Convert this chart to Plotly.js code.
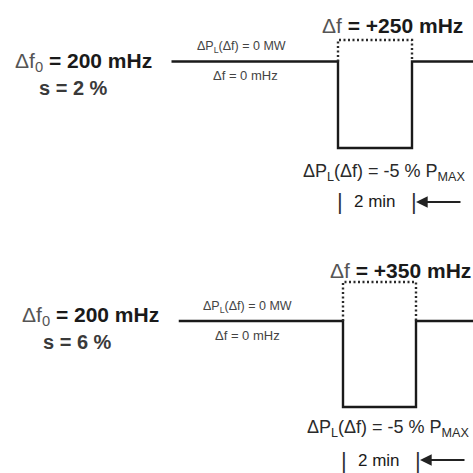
<!DOCTYPE html>
<html>
<head>
<meta charset="utf-8">
<script src="https://cdn.plot.ly/plotly-3.0.1.min.js"></script>
<style>html,body{margin:0;padding:0;background:#fff;}#plot{width:473px;height:473px;}</style>
</head>
<body>
<div id="plot"></div>
<script>
// ---- data ----
const stepTime = [-4.5, 0, 0, 2, 2, 5];          // minutes
const powerTop = [0, 0, -5, -5, 0, 0];          // % Pmax
const powerBottom = [0, 0, -5, -5, 0, 0];       // % Pmax
const freqTime = [0, 0, 2, 2];                  // minutes
const freqTop = [0, 250, 250, 0];               // mHz
const freqBottom = [0, 350, 350, 0];            // mHz
const labelsTop = {f0: 200, s: 2, df: 250, dp: -5, dur: 2};
const labelsBottom = {f0: 200, s: 6, df: 350, dp: -5, dur: 2};

// ---- layout helpers (pixel anchors) ----
const W = 473, H = 473;
function xRange(t0, p0, t1, p1) { const s = (t1 - t0) / (p1 - p0); return [t0 - s * p0, t0 + s * (W - p0)]; }
function yRange(v0, p0, v1, p1) { const s = (v1 - v0) / (p0 - p1); return [v0 - s * (H - p0), v0 + s * p0]; }
const px = x => x / W, py = y => 1 - y / H;

const lineStyle = {color: '#1a1a1a', width: 2.4};
const dotStyle = {color: '#2a2a2a', width: 2.4, dash: '2px,2.5px'};

const traces = [
  {x: stepTime, y: powerTop, xaxis: 'x', yaxis: 'y', mode: 'lines', line: lineStyle, hoverinfo: 'skip'},
  {x: freqTime, y: freqTop, xaxis: 'x', yaxis: 'y2', mode: 'lines', line: dotStyle, hoverinfo: 'skip'},
  {x: stepTime, y: powerBottom, xaxis: 'x2', yaxis: 'y3', mode: 'lines', line: lineStyle, hoverinfo: 'skip'},
  {x: freqTime, y: freqBottom, xaxis: 'x2', yaxis: 'y4', mode: 'lines', line: dotStyle, hoverinfo: 'skip'}
];

const hidden = {visible: false, fixedrange: true};
const F = 'Liberation Sans, Arial, sans-serif';
const dark = '#1a1a1a';

function ann(text, x, y, size, color) {
  return {text: text, x: px(x), y: py(y), xref: 'paper', yref: 'paper',
    xanchor: 'left', yanchor: 'middle', showarrow: false,
    font: {family: F, size: size, color: color || dark}};
}

function panel(L, o) {
  const a = [];
  a.push(ann('<span style="color:#555">Δf<sub>0</sub></span> <b>= ' + L.f0 + ' mHz</b>', o.f0x, o.f0y, 21));
  a.push(ann('<b>s = ' + L.s + ' %</b>', o.sx, o.sy, 20, '#3a3a3a'));
  a.push(ann('ΔP<sub>L</sub>(Δf) = 0 MW', o.zx, o.zy, 12.5, '#444'));
  a.push(ann('Δf = 0 mHz', o.zfx, o.zfy, 13, '#444'));
  a.push(ann('<span style="color:#555">Δf</span> <b>= +' + L.df + ' mHz</b>', o.dfx, o.dfy, 21));
  a.push(ann('ΔP<sub>L</sub>(Δf) = ' + L.dp + ' % P<sub>MAX</sub>', o.dpx, o.dpy, 18, '#2a2a2a'));
  a.push(ann('|', o.b1x, o.by, 22, '#333'));
  a.push(ann(L.dur + ' min', o.mx, o.by, 17));
  a.push(ann('|', o.b2x, o.by, 22, '#333'));
  a.push({x: px(o.b2x + 7), y: py(o.by), xref: 'paper', yref: 'paper', ax: o.arrLen, ay: 0,
    axref: 'pixel', ayref: 'pixel', showarrow: true, arrowhead: 2, arrowsize: 1.3,
    arrowwidth: 1.8, arrowcolor: '#222', text: ''});
  return a;
}

const annotations = [].concat(
  panel(labelsTop, {f0x: 13, f0y: 62, sx: 37, sy: 88, zx: 195, zy: 47, zfx: 211, zfy: 75,
    dfx: 320, dfy: 25, dpx: 301, dpy: 172, b1x: 335, mx: 352, b2x: 409, by: 202, arrLen: 46}),
  panel(labelsBottom, {f0x: 20, f0y: 316, sx: 41, sy: 342, zx: 201, zy: 307, zfx: 213, zfy: 335,
    dfx: 328, dfy: 270, dpx: 305, dpy: 428, b1x: 339, mx: 356, b2x: 413, by: 460, arrLen: 46})
);

const layout = {
  width: W, height: H, margin: {l: 0, r: 0, t: 0, b: 0},
  paper_bgcolor: '#fff', plot_bgcolor: 'rgba(0,0,0,0)', showlegend: false,
  xaxis: Object.assign({range: xRange(0, 338, 2, 412), domain: [0, 1], anchor: 'y'}, hidden),
  xaxis2: Object.assign({range: xRange(0, 343, 2, 416), domain: [0, 1], anchor: 'y3', overlaying: 'x'}, hidden),
  yaxis: Object.assign({range: yRange(0, 61.5, -5, 148), domain: [0, 1]}, hidden),
  yaxis2: Object.assign({range: yRange(0, 61.5, 250, 40), domain: [0, 1], overlaying: 'y'}, hidden),
  yaxis3: Object.assign({range: yRange(0, 321, -5, 407), domain: [0, 1], overlaying: 'y', anchor: 'x2'}, hidden),
  yaxis4: Object.assign({range: yRange(0, 321, 350, 282), domain: [0, 1], overlaying: 'y', anchor: 'x2'}, hidden),
  annotations: annotations
};

Plotly.newPlot('plot', traces, layout, {staticPlot: true, displayModeBar: false});
</script>
</body>
</html>
